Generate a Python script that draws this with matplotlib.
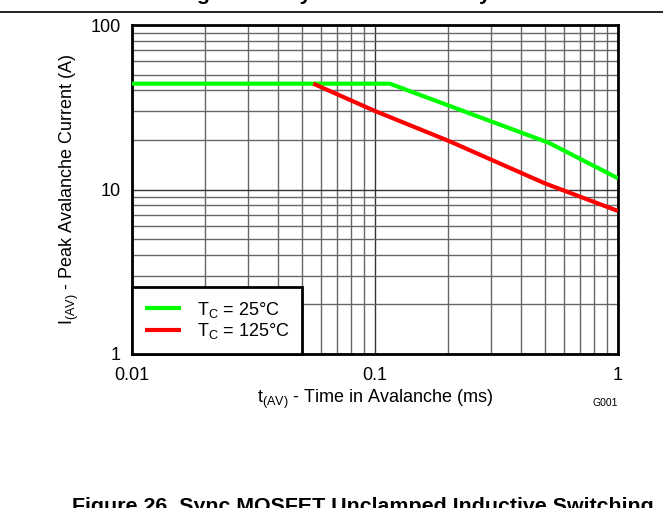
import matplotlib
matplotlib.use("Agg")
import matplotlib.pyplot as plt
from matplotlib.ticker import LogLocator, NullFormatter, FixedLocator, FixedFormatter

plt.rcParams['font.family'] = ['Liberation Sans', 'DejaVu Sans']
plt.rcParams['mathtext.fontset'] = 'custom'
plt.rcParams['mathtext.rm'] = 'Liberation Sans'
plt.rcParams['mathtext.it'] = 'Liberation Sans:italic'

# avalanche time (ms) vs peak current (A)
t_25 = [0.01, 0.115, 0.52, 1.0]
i_25 = [44.0, 44.0, 19.2, 11.7]

t_125 = [0.0557, 0.1, 0.2, 0.5, 1.0]
i_125 = [44.0, 30.0, 19.8, 10.9, 7.4]

x_ticks = [0.01, 0.1, 1]
x_labels = ["0.01", "0.1", "1"]
y_ticks = [1, 10, 100]
y_labels = ["1", "10", "100"]

fig = plt.figure(figsize=(6.63, 5.08), dpi=100)
ax = fig.add_axes([132/663, 1-354/508, (618-132)/663, (354-25)/508])

ax.plot(t_25, i_25, color='#00ff00', lw=3, label=r'T$_{\rm C}$ = 25°C', solid_capstyle='butt', zorder=3)
ax.plot(t_125, i_125, color='#ff0000', lw=3, label=r'T$_{\rm C}$ = 125°C', solid_capstyle='butt', zorder=3)

ax.set_xscale('log')
ax.set_yscale('log')
ax.set_xlim(0.01, 1)
ax.set_ylim(1, 100)

ax.xaxis.set_major_locator(FixedLocator(x_ticks))
ax.xaxis.set_major_formatter(FixedFormatter(x_labels))
ax.yaxis.set_major_locator(FixedLocator(y_ticks))
ax.yaxis.set_major_formatter(FixedFormatter(y_labels))
ax.xaxis.set_minor_locator(LogLocator(base=10, subs=range(2, 10)))
ax.yaxis.set_minor_locator(LogLocator(base=10, subs=range(2, 10)))
ax.xaxis.set_minor_formatter(NullFormatter())
ax.yaxis.set_minor_formatter(NullFormatter())

ax.grid(True, which='major', color='#333333', lw=1.0)
ax.grid(True, which='minor', color='#666666', lw=1.0)
ax.tick_params(which='both', length=0, labelsize=13, colors='#000000')
ax.tick_params(axis='x', pad=9)
ax.tick_params(axis='y', pad=8)
for s in ax.spines.values():
    s.set_linewidth(2)

ax.set_xlabel(r't$_{\rm (AV)}$ - Time in Avalanche (ms)', fontsize=13, labelpad=3)
ax.set_ylabel(r'I$_{\rm (AV)}$ - Peak Avalanche Current (A)', fontsize=13, labelpad=7)

leg = ax.legend(loc='lower left', fontsize=13, fancybox=False, borderaxespad=0,
                edgecolor='black', framealpha=1, handlelength=2.0, borderpad=0.7,
                labelspacing=0.1, handletextpad=0.9)
leg.get_frame().set_linewidth(2)

fig.text(605/663, 1-403/508, 'G001', fontsize=7.5, ha='center', va='center')

# cut-off page parts above and below
fig.text(367/663, 1-0/508, 'Figure 25. Sync MOSFET Body Diode', fontsize=15.4,
         fontweight='bold', ha='center', va='baseline')
fig.add_artist(plt.Line2D([0, 1], [1-12/508, 1-12/508], color='black', lw=1.2))
fig.text(363/663, 1-512/508, 'Figure 26. Sync MOSFET Unclamped Inductive Switching',
         fontsize=15.4, fontweight='bold', ha='center', va='baseline')

fig.savefig('out.png', dpi=100)
